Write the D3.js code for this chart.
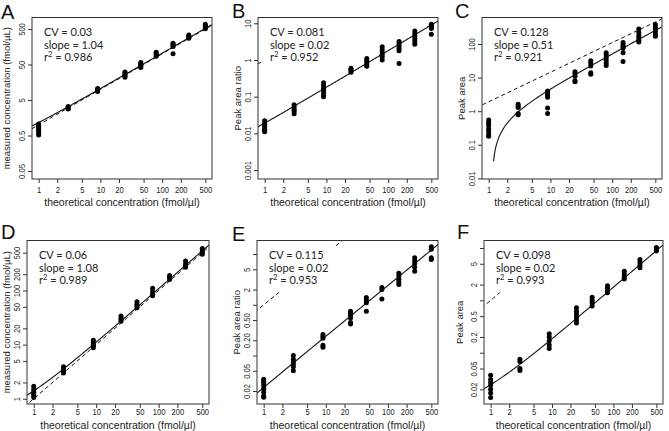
<!DOCTYPE html>
<html><head><meta charset="utf-8">
<script src="https://cdn.jsdelivr.net/npm/d3@7"></script>
<style>
html,body{margin:0;padding:0;background:#fff;}
svg{display:block;}
</style></head><body>
<svg id="chart" width="669" height="431"></svg>
<script>
// ---------------- data ----------------
const concentrations = [1, 3, 9, 25, 45, 80, 150, 270, 500];
const xTickValues = [1, 2, 5, 10, 20, 50, 100, 200, 500];
const panelLetters = ["A", "B", "C", "D", "E", "F"];
const xTitle = "theoretical concentration (fmol/µl)";
const yTitles = ["measured concentration (fmol/µL)", "Peak area ratio", "Peak area",
                 "measured concentration (fmol/µL)", "Peak area ratio", "Peak area"];
const cvLabels = ["0.03", "0.081", "0.128", "0.06", "0.115", "0.098"];
const slopeLabels = ["1.04", "0.02", "0.51", "1.08", "0.02", "0.02"];
const r2Labels = ["0.986", "0.952", "0.921", "0.989", "0.953", "0.993"];

const valuesA = [
  [1.05, 0.95, 0.85, 0.75, 0.68, 0.6, 0.52],
  [3.3, 3.1, 2.9, 2.8],
  [10.5, 9.8, 9.2, 8.7],
  [31, 28, 26, 24, 22],
  [57, 52, 48, 44, 41],
  [110, 100, 92, 85],
  [200, 185, 170, 160, 100],
  [340, 310, 290, 275],
  [680, 610, 560, 510]
];
const valuesB = [
  [0.022, 0.019, 0.017, 0.015, 0.013, 0.012, 0.011],
  [0.06, 0.052, 0.045, 0.04, 0.034],
  [0.24, 0.2, 0.17, 0.15, 0.13, 0.11, 0.1],
  [0.6, 0.55, 0.5, 0.46],
  [1.1, 0.95, 0.85, 0.75, 0.68],
  [2.3, 1.9, 1.6, 1.4, 1.2, 1.0],
  [3.2, 2.8, 2.4, 2.1, 1.8, 0.8],
  [6.2, 5.2, 4.5, 3.8, 3.2, 2.7],
  [9.5, 8.8, 8.0, 7.2, 5.0]
];
const valuesC = [
  [0.55, 0.45, 0.38, 0.3, 0.25, 0.2, 0.18],
  [1.6, 1.4, 1.3, 0.85, 0.78],
  [4.0, 3.5, 3.0, 2.6, 1.25, 0.85],
  [15, 13, 11, 8, 7.5],
  [32, 27, 22, 14, 12.5],
  [55, 48, 40, 33, 27, 23],
  [110, 95, 85, 75, 55, 30],
  [280, 220, 180, 150, 130, 115],
  [380, 320, 270, 230, 200, 170]
];
const valuesD = [
  [1.7, 1.5, 1.35, 1.25, 1.15, 1.05],
  [3.9, 3.5, 3.2, 3.0],
  [12, 11, 10, 9.5, 8.8],
  [34, 31, 29, 27],
  [62, 56, 52, 48],
  [110, 95, 85, 80],
  [190, 175, 160],
  [350, 310, 285, 270],
  [600, 540, 500, 470]
];
const valuesE = [
  [0.034, 0.031, 0.028, 0.025, 0.022, 0.019, 0.016, 0.015],
  [0.1, 0.085, 0.075, 0.068, 0.06, 0.05],
  [0.26, 0.24, 0.22, 0.16, 0.145],
  [0.75, 0.68, 0.62, 0.55, 0.45, 0.42],
  [1.4, 1.25, 1.1, 0.75],
  [2.2, 2.0, 1.3],
  [4.2, 3.7, 3.2, 2.8, 2.5],
  [8.5, 7.5, 6.5, 5.5, 4.6],
  [14, 12.5, 8.5, 7.8]
];
const valuesF = [
  [0.037, 0.031, 0.027, 0.024, 0.02, 0.017, 0.014],
  [0.075, 0.068, 0.05, 0.046],
  [0.23, 0.2, 0.17, 0.14, 0.12],
  [0.72, 0.62, 0.55, 0.48, 0.42, 0.37],
  [1.15, 1.0, 0.9, 0.78],
  [1.9, 1.7, 1.5, 1.4],
  [3.6, 3.2, 2.8, 2.55],
  [6.0, 5.3, 4.7, 4.2],
  [10.2, 9.5, 8.8]
];
const panelValues = [valuesA, valuesB, valuesC, valuesD, valuesE, valuesF];

// fitted calibration line (linear: y = slope*x + intercept), drawn on log axes
const fitSlopes = [1.04, 0.018, 0.51, 1.08, 0.024, 0.0178];
const fitIntercepts = [0.12, 0.001, -0.58, 0.32, -0.0005, 0.0067];
const fitStarts = [null, null, 1.2, null, null, null];
// dashed reference line (y = coef * x^power)
const refCoefs = [1, 1, 1.904, 1, 1, 1];
const refPowers = [1, 1, 0.88, 1, 1, 1];

const yTickValues = [
  [0.05, 0.5, 5, 50, 500],
  [0.001, 0.01, 0.1, 1, 10],
  [0.01, 0.1, 1, 10, 100],
  [1, 2, 5, 10, 20, 50, 100, 200, 500],
  [0.02, 0.05, 0.1, 0.2, 0.5, 1, 2, 5, 10],
  [0.02, 0.05, 0.1, 0.2, 0.5, 1, 2, 5, 10]
];
const yTickLabels = [
  ["0.05", "0.5", "5", "50", "500"],
  ["0.001", "0.01", "0.1", "1", "10"],
  ["0.01", "0.1", "1", "10", "100"],
  ["1", "2", "5", "10", "20", "50", "100", "200", "500"],
  ["0.02", "0.05", "", "0.20", "0.50", "", "2", "5", ""],
  ["0.02", "0.05", "", "0.2", "0.5", "", "2", "5", ""]
];

// ---------------- layout ----------------
const xDomain = [0.78, 641];
const yDomains = [[0.0298, 1054], [0.00057, 14.4], [0.0096, 615], [0.8, 840], [0.0111, 18.5], [0.0105, 13.9]];
const boxes = [
  [32, 17.5, 212, 179], [258, 17.5, 438, 179], [482, 17.5, 662, 179],
  [27, 240.5, 209, 404], [257, 240.5, 438, 404], [484, 240.5, 663, 404]
];
const letterPos = [[1, 18.5], [232, 18], [455, 17.5], [1, 239], [232, 241], [457, 239]];
const yTitleX = [10, 241, 465, 10, 240, 463];
const xLabelBaseline = [193.5, 193.5, 193.5, 415.5, 415.5, 415.5];
const xTitleBaseline = [205.5, 205.5, 205.5, 428.5, 428.5, 428.5];

const TXT = "Lato, 'Open Sans', sans-serif";
const AXF = "'Liberation Sans', Arial, sans-serif";
const AX = "#333";

const svg = d3.select("#chart");
const defs = svg.append("defs");

panelLetters.forEach((letter, i) => {
  const [x0, y0, x1, y1] = boxes[i];
  const x = d3.scaleLog().domain(xDomain).range([x0, x1]);
  const y = d3.scaleLog().domain(yDomains[i]).range([y1, y0]);
  const g = svg.append("g");

  defs.append("clipPath").attr("id", "clip" + i)
    .append("rect").attr("x", x0).attr("y", y0).attr("width", x1 - x0).attr("height", y1 - y0);

  // x axis
  const xa = g.append("g").attr("transform", `translate(0,${y1})`)
    .call(d3.axisBottom(x).tickValues(xTickValues).tickFormat(d3.format("d")).tickSize(4).tickSizeOuter(0));
  xa.select(".domain").remove();
  xa.attr("font-family", AXF).attr("font-size", 9.5).attr("color", AX);
  xa.selectAll("text").attr("y", xLabelBaseline[i] - y1).attr("dy", null)
    .attr("transform", "scale(0.8,1)").attr("fill", "#222");

  // y axis
  const labels = yTickLabels[i];
  const ya = g.append("g").attr("transform", `translate(${x0},0)`)
    .call(d3.axisLeft(y).tickValues(yTickValues[i]).tickFormat((d, k) => labels[k]).tickSize(4).tickSizeOuter(0));
  ya.select(".domain").remove();
  ya.attr("font-family", AXF).attr("font-size", 9.5).attr("color", AX);
  ya.selectAll("text").attr("transform", "rotate(-90) scale(0.8,1)").attr("x", 0).attr("y", -7)
    .attr("dy", null).attr("text-anchor", "middle").attr("fill", "#222");

  // axis titles
  g.append("text").attr("x", (x0 + x1) / 2).attr("y", xTitleBaseline[i])
    .attr("text-anchor", "middle").attr("font-family", AXF).attr("font-size", 10.5)
    .attr("fill", "#222").text(xTitle);
  g.append("text").attr("transform", `translate(${yTitleX[i]},${(y0 + y1) / 2}) rotate(-90)`)
    .attr("text-anchor", "middle").attr("font-family", AXF).attr("font-size", 9.5)
    .attr("fill", "#222").text(yTitles[i]);

  // panel letter
  g.append("text").attr("x", letterPos[i][0]).attr("y", letterPos[i][1])
    .attr("font-family", AXF).attr("font-size", 20).attr("fill", "#111").text(letter);

  const plot = g.append("g").attr("clip-path", `url(#clip${i})`);

  // dashed reference line
  const refPts = [xDomain[0] * 0.5, xDomain[1] * 2].map(v => [v, refCoefs[i] * Math.pow(v, refPowers[i])]);
  plot.append("path")
    .attr("d", d3.line().x(d => x(d[0])).y(d => y(d[1]))(refPts))
    .attr("fill", "none").attr("stroke", "#111").attr("stroke-width", 1).attr("stroke-dasharray", "4,3");

  // fitted line
  const start = fitStarts[i] || xDomain[0];
  const n = 240;
  const fitPts = d3.range(n + 1).map(k => {
    const xv = Math.exp(Math.log(start) + (k / n) * (Math.log(xDomain[1]) - Math.log(start)));
    return [xv, fitSlopes[i] * xv + fitIntercepts[i]];
  }).filter(d => d[1] > 0);
  plot.append("path")
    .attr("d", d3.line().x(d => x(d[0])).y(d => y(d[1]))(fitPts))
    .attr("fill", "none").attr("stroke", "#111").attr("stroke-width", 1.1);

  // legend with white background
  const lg = g.append("g");
  const lx = x0 + 12, ly = y0 + 18.5, lh = 12.7;
  const bg = lg.append("rect").attr("fill", "#fff");
  const lt = lg.append("g").attr("font-family", TXT).attr("font-size", 11).attr("fill", "#222");
  lt.append("text").attr("x", lx).attr("y", ly).text("CV = " + cvLabels[i]);
  lt.append("text").attr("x", lx).attr("y", ly + lh).text("slope = " + slopeLabels[i]);
  const r2 = lt.append("text").attr("x", lx).attr("y", ly + 2 * lh);
  r2.append("tspan").text("r");
  r2.append("tspan").attr("font-size", 7.5).attr("dy", -4).text("2");
  r2.append("tspan").attr("dy", 4).text(" = " + r2Labels[i]);
  const bb = lt.node().getBBox();
  bg.attr("x", bb.x - 8).attr("y", y0 + 1).attr("width", bb.width + 14).attr("height", (ly + 2 * lh + 8) - (y0 + 1));

  // points
  const pts = [];
  concentrations.forEach((c, k) => panelValues[i][k].forEach(v => pts.push([c, v])));
  g.append("g").selectAll("circle").data(pts).join("circle")
    .attr("cx", d => x(d[0])).attr("cy", d => y(d[1])).attr("r", 2.5).attr("fill", "#000");

  // frame
  g.append("rect").attr("x", x0).attr("y", y0).attr("width", x1 - x0).attr("height", y1 - y0)
    .attr("fill", "none").attr("stroke", AX).attr("stroke-width", 1);
});
</script>
</body></html>
